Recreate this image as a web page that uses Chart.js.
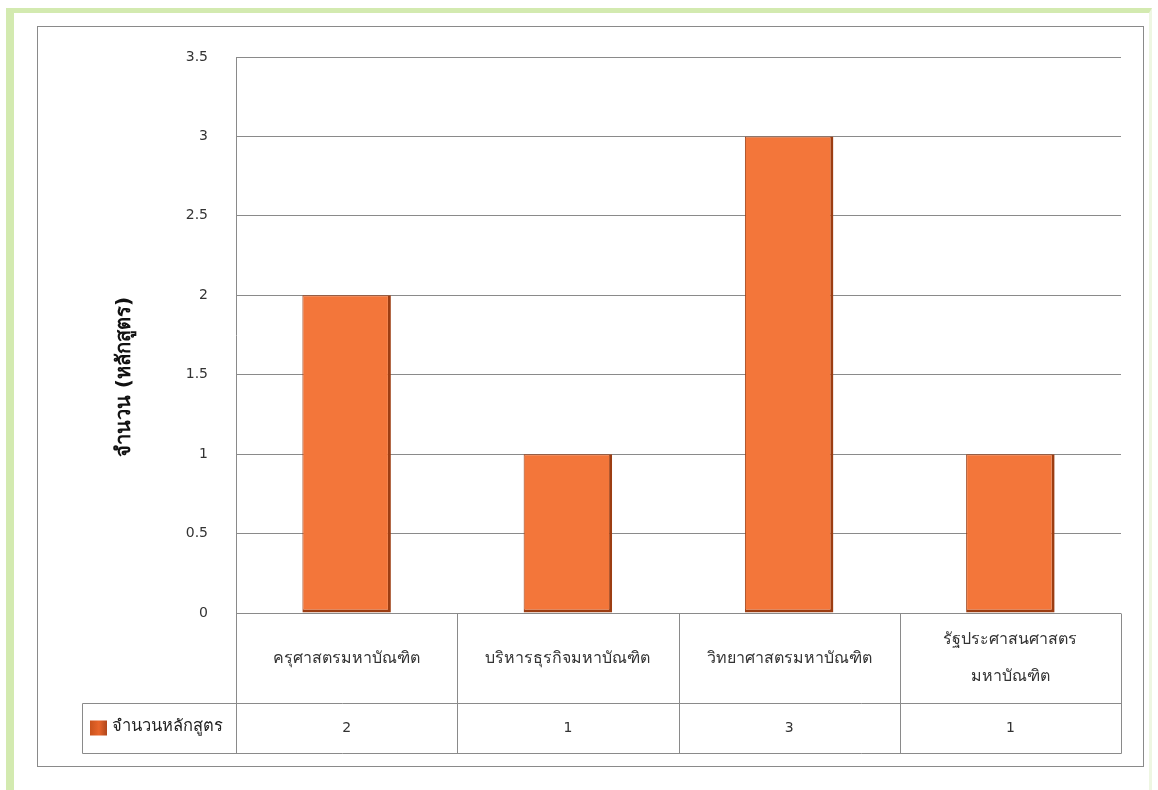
<!DOCTYPE html>
<html>
<head>
<meta charset="utf-8">
<script src="https://cdn.jsdelivr.net/npm/chart.js@4"></script>
<style>
    html, body { margin: 0; padding: 0; background: #fff; }
    #wrap { position: relative; width: 1158px; height: 790px; overflow: hidden; }
    #frame {
        position: absolute; left: 6px; top: 8px; width: 1146px; height: 800px;
        border-left: 8px solid #d3eab0; border-top: 5px solid #d3eab0;
        border-right: 3px solid #eef6e2;
        box-sizing: border-box;
    }
    #chart { position: absolute; left: 0; top: 0; }
</style>
</head>
<body>
<div id="wrap">
    <div id="frame"></div>
    <canvas id="chart" width="1158" height="790"></canvas>
</div>
<script>
// ข้อมูลกราฟ
const categories = [
    ['ครุศาสตรมหาบัณฑิต'],
    ['บริหารธุรกิจมหาบัณฑิต'],
    ['วิทยาศาสตรมหาบัณฑิต'],
    ['รัฐประศาสนศาสตร', 'มหาบัณฑิต']
];
const courseCounts = [2, 1, 3, 1];
const seriesName = 'จำนวนหลักสูตร';
const yTitle = 'จำนวน (หลักสูตร)';
const yMin = 0;
const yMax = 3.5;
const yStep = 0.5;

const FONT = 'Tahoma, "DejaVu Sans", "Noto Sans", sans-serif';
const BAR_COLOR = '#f3763a';
const BAR_EDGE = '#9c3d12';
const LINE = '#8a8a8a';

/**
 * ตารางข้อมูลใต้กราฟ + กรอบ + ชื่อแกน
 */
const dataTablePlugin = {
    id: 'dataTable',
    beforeDraw(chart) {
        const ctx = chart.ctx;
        ctx.save();
        ctx.strokeStyle = LINE;
        ctx.lineWidth = 1;
        ctx.strokeRect(37.5, 26.5, 1106, 740);
        ctx.restore();
    },
    afterDraw(chart) {
        const ctx = chart.ctx;
        const area = chart.chartArea;
        const x = chart.scales.x;
        const top = Math.round(area.bottom) + 0.5;
        const mid = top + 90;
        const bot = mid + 50;
        const legendLeft = 82.5;
        const left = Math.round(area.left) + 0.5;
        const right = Math.round(area.right) + 0.5;
        const half = (x.getPixelForValue(1) - x.getPixelForValue(0)) / 2;

        ctx.save();
        ctx.strokeStyle = LINE;
        ctx.lineWidth = 1;
        ctx.beginPath();
        ctx.moveTo(legendLeft, mid); ctx.lineTo(right, mid);
        ctx.moveTo(legendLeft, bot); ctx.lineTo(right, bot);
        ctx.moveTo(legendLeft, mid); ctx.lineTo(legendLeft, bot);
        ctx.moveTo(left, top); ctx.lineTo(left, bot);
        categories.forEach((c, i) => {
            const edge = Math.round(x.getPixelForValue(i) + half) + 0.5;
            ctx.moveTo(edge, top); ctx.lineTo(edge, bot);
        });
        ctx.stroke();

        // ชื่อหมวดและค่า
        ctx.fillStyle = '#333';
        ctx.textAlign = 'center';
        ctx.textBaseline = 'middle';
        categories.forEach((lines, i) => {
            const cx = x.getPixelForValue(i);
            const lh = 37;
            const y0 = (top + mid) / 2 - (lines.length - 1) * lh / 2;
            ctx.font = '16px ' + FONT;
            lines.forEach((t, j) => ctx.fillText(t, cx, y0 + j * lh));
            ctx.font = '14px ' + FONT;
            ctx.fillText(String(courseCounts[i]), cx, (mid + bot) / 2);
        });

        // สัญลักษณ์ legend
        const ly = (mid + bot) / 2;
        const grad = ctx.createLinearGradient(90, 0, 108, 0);
        grad.addColorStop(0, '#c9521c');
        grad.addColorStop(0.5, '#e8652b');
        grad.addColorStop(1, '#a8421a');
        ctx.fillStyle = grad;
        ctx.fillRect(90, ly - 8, 17, 15);
        ctx.fillStyle = '#222';
        ctx.textAlign = 'left';
        ctx.font = '16.5px ' + FONT;
        ctx.fillText(seriesName, 112, ly - 2);

        // ชื่อแกน Y
        ctx.translate(125, 377);
        ctx.rotate(-Math.PI / 2);
        ctx.textAlign = 'center';
        ctx.font = 'bold 20px ' + FONT;
        ctx.fillStyle = '#111';
        ctx.fillText(yTitle, 0, 0);
        ctx.restore();
    }
};

const ctx = document.getElementById('chart').getContext('2d');
new Chart(ctx, {
    type: 'bar',
    data: {
        labels: categories,
        datasets: [{
            label: seriesName,
            data: courseCounts,
            backgroundColor: BAR_COLOR,
            borderColor: BAR_EDGE,
            borderWidth: { left: 1, right: 3, top: 1, bottom: 3 },
            borderSkipped: false,
            categoryPercentage: 1,
            barPercentage: 0.4
        }]
    },
    options: {
        responsive: false,
        animation: false,
        layout: {
            padding: { left: 100, top: 57, right: 37, bottom: 177 }
        },
        plugins: {
            legend: { display: false },
            tooltip: { enabled: false }
        },
        scales: {
            x: {
                display: false
            },
            y: {
                min: yMin,
                max: yMax,
                afterFit(scale) { scale.width = 136; },
                ticks: {
                    stepSize: yStep,
                    padding: 28,
                    color: '#333',
                    font: { family: FONT, size: 14 },
                    callback: v => String(v)
                },
                grid: {
                    color: LINE,
                    drawTicks: false
                },
                border: { display: true, color: LINE }
            }
        }
    },
    plugins: [dataTablePlugin]
});
</script>
</body>
</html>
